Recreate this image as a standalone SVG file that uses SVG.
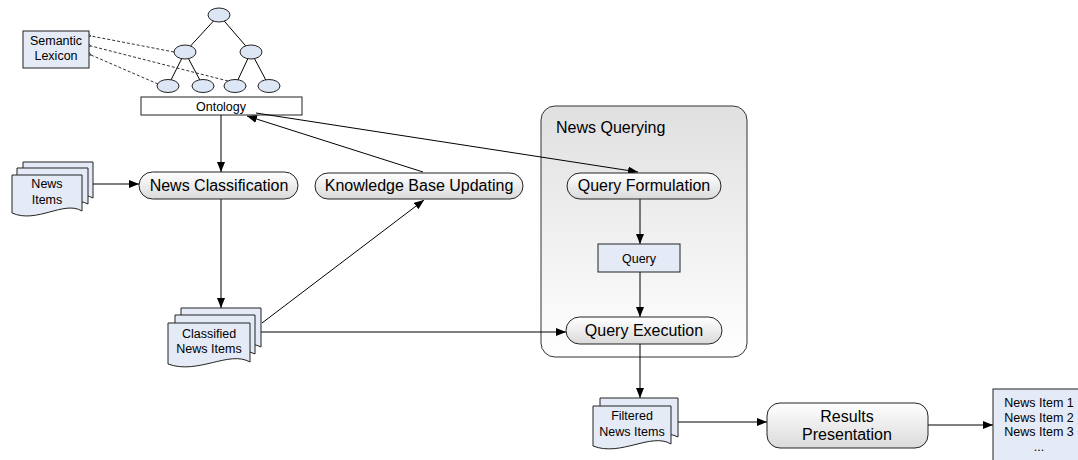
<svg xmlns="http://www.w3.org/2000/svg" width="1078" height="460" viewBox="0 0 1078 460">
<defs>
<linearGradient id="pill" x1="0" y1="0" x2="0" y2="1"><stop offset="0" stop-color="#ffffff"/><stop offset="1" stop-color="#dadada"/></linearGradient>
<linearGradient id="cont" x1="0" y1="0" x2="0" y2="1"><stop offset="0" stop-color="#e0e0e0"/><stop offset="1" stop-color="#ffffff"/></linearGradient>
<marker id="ah" viewBox="0 0 10 8" refX="10" refY="4" markerWidth="10" markerHeight="8" markerUnits="userSpaceOnUse" orient="auto"><path d="M0,0 L10,4 L0,8 Z" fill="#000"/></marker>
<marker id="oa" viewBox="0 0 8 8" refX="1" refY="4" markerWidth="7" markerHeight="7" markerUnits="userSpaceOnUse" orient="auto"><path d="M8,0 L1,4 L8,8" fill="none" stroke="#333" stroke-width="1"/></marker>
</defs>
<style>
text{font-family:"Liberation Sans",Arial,sans-serif;fill:#000;text-anchor:middle}
.s{font-size:12.5px}
.b{font-size:16px}
.blue{fill:#e4eaf6;stroke:#222;stroke-width:1}
.pill{fill:url(#pill);stroke:#222;stroke-width:1}
.c{stroke:#000;stroke-width:1;fill:none}
.ca{stroke:#000;stroke-width:1;fill:none;marker-end:url(#ah)}
.d{stroke:#333;stroke-width:1;fill:none;stroke-dasharray:3,2;marker-end:url(#oa)}
.el{fill:#dde6f4;stroke:#222;stroke-width:1}
</style>
<g id="news-querying">
<rect x="541" y="106" width="206" height="251" rx="14" fill="url(#cont)" stroke="#333"/>
<text x="556" y="133" class="b" style="text-anchor:start">News Querying</text>
</g>
<g id="tree-edges">
<line class="c" x1="219" y1="15" x2="185" y2="52"/>
<line class="c" x1="219" y1="15" x2="251" y2="52"/>
<line class="c" x1="185" y1="52" x2="168" y2="86"/>
<line class="c" x1="185" y1="52" x2="203" y2="86"/>
<line class="c" x1="251" y1="52" x2="235" y2="86"/>
<line class="c" x1="251" y1="52" x2="269" y2="86"/>
</g>
<g id="lexicon-links">
<line class="d" x1="174" y1="52" x2="91" y2="36"/>
<line class="d" x1="228" y1="81" x2="91" y2="46"/>
<line class="d" x1="158" y1="84" x2="91" y2="55"/>
</g>
<g id="tree-nodes">
<ellipse class="el" cx="219" cy="15" rx="11" ry="7"/>
<ellipse class="el" cx="185" cy="52" rx="11" ry="7"/>
<ellipse class="el" cx="251" cy="52" rx="11" ry="7"/>
<ellipse class="el" cx="168" cy="86" rx="11" ry="6.5"/>
<ellipse class="el" cx="203" cy="86" rx="11" ry="6.5"/>
<ellipse class="el" cx="235" cy="86" rx="11" ry="6.5"/>
<ellipse class="el" cx="269" cy="86" rx="11" ry="6.5"/>
</g>
<g id="semantic-lexicon">
<rect class="blue" x="23" y="31" width="66" height="37"/>
<text x="56" y="45" class="s">Semantic</text>
<text x="56" y="60" class="s">Lexicon</text>
</g>
<g id="ontology">
<rect x="141" y="97" width="161" height="18" fill="#fff" stroke="#222"/>
<text x="221" y="111" class="s">Ontology</text>
</g>
<g id="connectors">
<line class="ca" x1="221" y1="115" x2="221" y2="172"/>
<line class="ca" x1="93" y1="184" x2="139" y2="184"/>
<line class="ca" x1="221" y1="199" x2="221" y2="308"/>
<line class="ca" x1="262" y1="323" x2="424" y2="200"/>
<line class="ca" x1="257" y1="332" x2="566" y2="332"/>
<line class="ca" x1="423" y1="172" x2="247" y2="116"/>
<line class="ca" x1="256" y1="113" x2="638" y2="172"/>
<line class="ca" x1="640" y1="199" x2="640" y2="244"/>
<line class="ca" x1="640" y1="272" x2="640" y2="317"/>
<line class="ca" x1="640" y1="344" x2="640" y2="398"/>
<line class="ca" x1="678" y1="422" x2="767" y2="422"/>
<line class="ca" x1="928" y1="425" x2="993" y2="425"/>
</g>
<g id="news-items">
<path class="blue" d="M23,162 H93 V198 C75,188 47,212 23,200 Z"/>
<path class="blue" d="M17,168 H88 V204 C70,194 42,218 17,206 Z"/>
<path class="blue" d="M12,175 H82 V211 C64,200 37,224 12,213 Z"/>
<text x="47" y="188" class="s">News</text>
<text x="47" y="204" class="s">Items</text>
</g>
<g id="news-classification">
<rect class="pill" x="139" y="172" width="159" height="27" rx="13.5"/>
<text x="219" y="191" class="b">News Classification</text>
</g>
<g id="knowledge-base-updating">
<rect class="pill" x="315" y="173" width="208" height="26" rx="13"/>
<text x="419" y="191" class="b">Knowledge Base Updating</text>
</g>
<g id="classified-news-items">
<path class="blue" d="M181,308 H261 V347 C240,336 210,360 181,349 Z"/>
<path class="blue" d="M175,315 H255 V354 C234,343 204,367 175,356 Z"/>
<path class="blue" d="M168,323 H250 V362 C229,350 198,375 168,364 Z"/>
<text x="209" y="338" class="s">Classified</text>
<text x="209" y="353" class="s">News Items</text>
</g>
<g id="query-formulation">
<rect class="pill" x="567" y="173" width="154" height="26" rx="13"/>
<text x="644" y="191" class="b">Query Formulation</text>
</g>
<g id="query">
<rect class="blue" x="598" y="244" width="82" height="28"/>
<text x="639" y="263" class="s">Query</text>
</g>
<g id="query-execution">
<rect class="pill" x="566" y="317" width="156" height="27" rx="13.5"/>
<text x="644" y="336" class="b">Query Execution</text>
</g>
<g id="filtered-news-items">
<path class="blue" d="M600,398 H678 V437 C657,426 628,450 600,439 Z"/>
<path class="blue" d="M593,406 H671 V444 C651,432 621,457 593,446 Z"/>
<text x="632" y="420" class="s">Filtered</text>
<text x="632" y="436" class="s">News Items</text>
</g>
<g id="results-presentation">
<rect class="pill" x="767" y="403" width="161" height="45" rx="13"/>
<text x="847" y="422" class="b">Results</text>
<text x="847" y="440" class="b">Presentation</text>
</g>
<g id="news-item-list">
<rect class="blue" x="993" y="389" width="95" height="80"/>
<text x="1039" y="407" class="s">News Item 1</text>
<text x="1039" y="422" class="s">News Item 2</text>
<text x="1039" y="436" class="s">News Item 3</text>
<text x="1039" y="451" class="s">...</text>
</g>
</svg>
